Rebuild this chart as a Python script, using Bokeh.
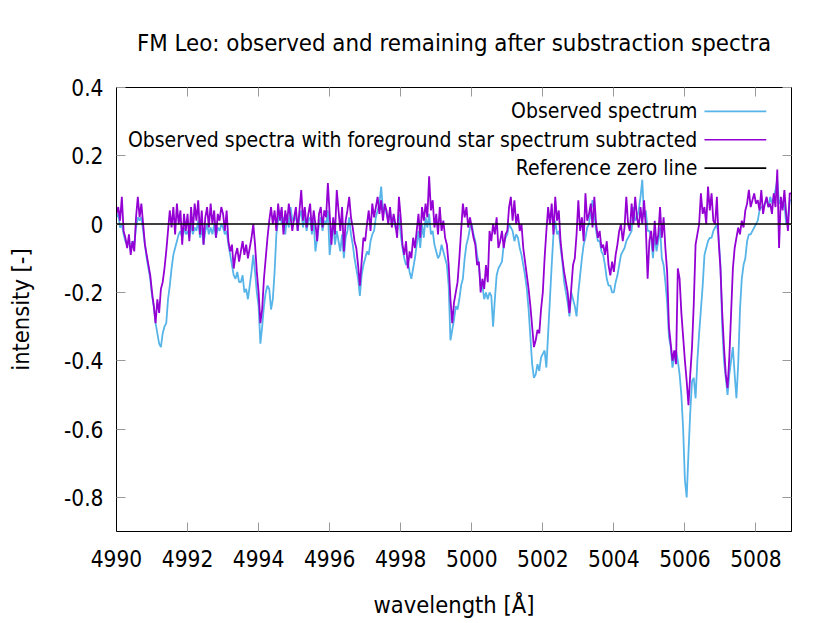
import numpy as np
from bokeh.plotting import figure
from bokeh.models import Range1d, LinearAxis, FixedTicker, Span, Label, BoxAnnotation, CustomLabelingPolicy
from bokeh.embed import file_html
from bokeh.resources import INLINE

FONT = "DejaVu Sans Condensed"

# ---------------- data ----------------
wavelength_start = 4990.0   # Angstrom
wavelength_step = 0.05      # Angstrom

# Observed spectrum (blue), one row per Angstrom, 20 samples each
observed = [
    0.02, 0.03, -0.01, 0.00, -0.03, -0.05, -0.06, -0.05, -0.08, -0.05, -0.06, -0.01, 0.02, 0.01, 0.02, -0.02, -0.06, -0.10, -0.13, -0.16,
    -0.21, -0.24, -0.29, -0.32, -0.35, -0.36, -0.32, -0.30, -0.29, -0.22, -0.18, -0.13, -0.09, -0.07, -0.05, -0.03, -0.02, -0.04, -0.01, -0.03,
    -0.02, -0.04, 0.00, -0.03, -0.01, -0.02, 0.01, -0.04, -0.01, -0.06, -0.02, 0.00, -0.03, -0.01, -0.03, 0.00, -0.04, -0.01, -0.02, 0.00,
    -0.01, -0.03, -0.02, -0.06, -0.09, -0.12, -0.15, -0.16, -0.14, -0.17, -0.17, -0.15, -0.20, -0.19, -0.22, -0.18, -0.14, -0.09, -0.14, -0.20,
    -0.24, -0.35, -0.30, -0.24, -0.20, -0.18, -0.19, -0.25, -0.22, -0.14, -0.03, 0.01, 0.04, 0.00, 0.02, -0.03, 0.03, -0.01, 0.05, 0.01,
    0.01, 0.03, -0.02, 0.02, 0.04, -0.01, 0.03, -0.02, 0.01, 0.02, -0.03, 0.01, -0.08, -0.04, 0.00, 0.02, -0.02, 0.01, 0.00, 0.04,
    -0.09, -0.04, 0.00, -0.06, -0.02, -0.05, -0.08, -0.03, -0.10, -0.04, -0.02, 0.02, -0.03, -0.06, -0.10, -0.13, -0.16, -0.21, -0.15, -0.12,
    -0.10, -0.08, -0.09, -0.05, -0.03, -0.02, 0.02, 0.04, 0.06, 0.11, 0.04, 0.05, 0.03, 0.01, 0.04, 0.00, 0.02, -0.01, -0.02, 0.03,
    -0.03, -0.07, -0.10, -0.12, -0.11, -0.14, -0.16, -0.13, -0.10, -0.06, -0.02, -0.07, 0.00, -0.04, 0.02, -0.01, 0.03, -0.03, -0.02, -0.06,
    -0.08, -0.10, -0.09, -0.06, -0.08, -0.10, -0.12, -0.18, -0.34, -0.31, -0.28, -0.24, -0.25, -0.22, -0.18, -0.16, -0.10, -0.06, -0.04, -0.01,
    0.00, -0.03, -0.05, -0.09, -0.12, -0.18, -0.18, -0.22, -0.20, -0.22, -0.20, -0.21, -0.30, -0.22, -0.15, -0.13, -0.12, -0.11, -0.06, -0.04,
    -0.03, 0.00, -0.01, -0.02, -0.05, -0.03, -0.04, -0.07, -0.09, -0.12, -0.15, -0.19, -0.25, -0.33, -0.41, -0.45, -0.44, -0.41, -0.43, -0.39,
    -0.38, -0.37, -0.42, -0.32, -0.22, -0.12, -0.03, 0.01, -0.03, -0.02, -0.07, -0.11, -0.17, -0.20, -0.23, -0.27, -0.20, -0.22, -0.24, -0.27,
    -0.20, -0.15, -0.10, -0.06, -0.04, -0.01, 0.00, 0.04, 0.07, 0.03, -0.02, -0.05, -0.05, -0.08, -0.09, -0.12, -0.16, -0.18, -0.18, -0.20,
    -0.20, -0.17, -0.15, -0.12, -0.09, -0.08, -0.07, -0.05, -0.04, -0.03, -0.02, 0.05, 0.01, 0.02, 0.04, 0.08, 0.13, 0.02, 0.04, -0.02,
    -0.02, -0.04, -0.10, -0.03, -0.08, -0.05, -0.01, -0.10, -0.12, -0.17, -0.23, -0.33, -0.36, -0.42, -0.39, -0.37, -0.40, -0.44, -0.50, -0.60,
    -0.75, -0.80, -0.67, -0.55, -0.46, -0.45, -0.51, -0.40, -0.32, -0.25, -0.18, -0.09, -0.07, -0.05, -0.04, -0.04, -0.02, -0.01, 0.00, -0.04,
    -0.12, -0.30, -0.40, -0.45, -0.50, -0.44, -0.40, -0.36, -0.44, -0.51, -0.41, -0.25, -0.16, -0.12, -0.10, -0.05, -0.03, -0.03, -0.02, -0.01,
    0.00, 0.01, 0.04, 0.05, 0.05, 0.06, 0.07, 0.05, 0.08, 0.06, 0.08, 0.10, 0.13, 0.06, 0.07, 0.05, 0.06, 0.00, 0.02, 0.07,
    0.07,
]

# Observed spectrum with foreground star spectrum subtracted (purple)
subtracted = [
    0.03, 0.05, 0.01, 0.08, -0.02, -0.04, -0.07, -0.03, -0.09, -0.05, -0.08, 0.02, 0.08, 0.02, 0.06, 0.00, -0.06, -0.09, -0.12, -0.15,
    -0.20, -0.24, -0.29, -0.22, -0.26, -0.19, -0.17, -0.13, -0.08, -0.02, 0.04, -0.01, 0.05, -0.03, 0.06, 0.00, 0.04, -0.06, 0.03, -0.02,
    0.03, -0.05, 0.05, -0.02, 0.06, 0.01, 0.07, -0.03, 0.04, -0.06, 0.02, 0.05, -0.01, 0.06, 0.00, 0.04, -0.04, 0.03, 0.01, 0.05,
    0.03, -0.02, 0.04, -0.05, -0.08, -0.06, -0.13, -0.09, -0.07, -0.11, -0.08, -0.05, -0.09, -0.06, -0.10, -0.07, -0.04, 0.00, -0.06, -0.14,
    -0.20, -0.29, -0.25, -0.16, -0.10, -0.04, 0.01, 0.05, 0.00, 0.04, -0.02, 0.06, 0.01, 0.05, -0.03, 0.04, 0.00, 0.06, 0.02, -0.02,
    0.02, 0.05, -0.02, 0.04, 0.10, 0.01, 0.05, -0.01, 0.03, 0.06, -0.02, 0.04, 0.00, -0.05, 0.03, 0.05, -0.01, 0.04, 0.02, 0.12,
    0.03, -0.06, 0.02, -0.03, 0.10, 0.04, -0.02, 0.05, -0.08, 0.01, 0.04, 0.08, 0.02, -0.01, -0.05, -0.07, -0.12, -0.18, -0.11, -0.04,
    -0.05, 0.00, 0.04, -0.02, 0.06, 0.02, 0.05, 0.08, 0.03, 0.07, 0.01, 0.06, 0.04, 0.00, 0.05, -0.01, 0.03, 0.00, -0.04, 0.08,
    0.02, -0.06, -0.09, -0.05, -0.13, -0.08, -0.10, -0.04, -0.07, -0.02, 0.03, -0.04, 0.05, 0.01, 0.06, 0.02, 0.14, 0.04, 0.07, -0.01,
    0.03, -0.03, 0.05, -0.02, 0.01, -0.04, -0.06, -0.12, -0.22, -0.29, -0.23, -0.20, -0.17, -0.10, -0.02, 0.06, 0.02, 0.05, -0.01, 0.02,
    -0.01, -0.04, -0.06, -0.12, -0.11, -0.20, -0.16, -0.19, -0.12, -0.17, -0.02, -0.05, 0.00, -0.03, 0.02, -0.07, -0.05, -0.02, -0.07, -0.03,
    -0.02, 0.05, 0.08, 0.01, 0.07, 0.00, 0.03, -0.02, 0.00, -0.07, -0.11, -0.15, -0.19, -0.24, -0.30, -0.36, -0.34, -0.31, -0.32, -0.25,
    -0.20, -0.10, -0.02, 0.05, 0.00, 0.06, -0.03, 0.08, 0.01, 0.04, -0.05, -0.10, -0.14, -0.17, -0.20, -0.26, -0.19, -0.12, -0.10, -0.03,
    0.07, -0.02, 0.02, -0.05, 0.09, 0.01, 0.03, 0.06, -0.01, 0.08, 0.00, -0.04, -0.02, -0.07, -0.06, -0.09, -0.05, -0.12, -0.15, -0.11,
    -0.14, -0.09, -0.06, -0.02, 0.00, -0.05, -0.01, 0.08, 0.00, -0.02, 0.06, 0.00, 0.08, 0.02, -0.01, 0.05, 0.00, 0.07, -0.01, -0.16,
    -0.05, -0.02, -0.08, 0.01, -0.06, -0.03, 0.05, -0.04, 0.02, -0.07, -0.14, -0.30, -0.35, -0.40, -0.37, -0.41, -0.13, -0.16, -0.26, -0.33,
    -0.40, -0.46, -0.53, -0.44, -0.36, -0.23, -0.06, -0.03, 0.00, 0.09, 0.03, 0.05, 0.00, 0.11, 0.04, 0.09, 0.01, 0.00, 0.08, -0.05,
    -0.13, -0.26, -0.36, -0.44, -0.48, -0.39, -0.26, -0.13, -0.07, -0.04, -0.01, -0.03, 0.01, -0.01, 0.04, 0.06, 0.10, 0.05, 0.07, 0.09,
    0.06, 0.07, 0.04, 0.10, 0.03, 0.06, 0.08, 0.05, 0.06, 0.03, 0.09, 0.05, 0.16, -0.07, 0.08, 0.04, 0.10, 0.03, -0.02, 0.09,
    0.09,
]

wavelength = np.round(wavelength_start + wavelength_step * np.arange(len(observed)), 2)

x_ticks = [4990, 4992, 4994, 4996, 4998, 5000, 5002, 5004, 5006, 5008]
x_tick_labels = ["4990", "4992", "4994", "4996", "4998", "5000", "5002", "5004", "5006", "5008"]
y_ticks = [0.4, 0.2, 0.0, -0.2, -0.4, -0.6, -0.8]
y_tick_labels = ["0.4", "0.2", "0", "-0.2", "-0.4", "-0.6", "-0.8"]

series_names = ["Observed spectrum",
                "Observed spectra with foreground star spectrum subtracted",
                "Reference zero line"]
series_colors = ["#56b4e9", "#9400d3", "#000000"]

title_text = "FM Leo: observed and remaining after substraction spectra"
x_label = "wavelength [Å]"
y_label = "intensity [-]"

# ---------------- figure ----------------
p = figure(width=822, height=623,
           x_range=Range1d(4990, 5009), y_range=Range1d(-0.9, 0.4),
           output_backend="svg", toolbar_location=None,
           min_border_left=116, min_border_right=31,
           min_border_top=87, min_border_bottom=92,
           background_fill_color="white", border_fill_color="white")

p.title.text = title_text
p.title.align = "center"
p.title.text_font = FONT
p.title.text_font_size = "23.8px"
p.title.text_font_style = "normal"
p.title.text_color = "black"
p.title.standoff = 40

p.xgrid.visible = False
p.ygrid.visible = False
p.outline_line_color = "black"

p.xaxis.ticker = FixedTicker(ticks=x_ticks)
p.yaxis.ticker = FixedTicker(ticks=y_ticks)
p.xaxis.major_label_overrides = {t: l for t, l in zip(x_ticks, x_tick_labels)}
p.yaxis.major_label_overrides = {t: l for t, l in zip(y_ticks, y_tick_labels)}
p.xaxis.axis_label = x_label
p.yaxis.axis_label = y_label

for ax in (p.xaxis[0], p.yaxis[0]):
    ax.major_tick_in = 9
    ax.major_tick_out = 0
    ax.minor_tick_line_color = None
    ax.major_tick_line_color = "#9a9a9a"
    ax.axis_line_color = "black"
    ax.major_label_text_font = FONT
    ax.major_label_text_font_size = "22.5px"
    ax.major_label_text_color = "black"
    ax.axis_label_text_font = FONT
    ax.axis_label_text_font_size = "23.5px"
    ax.axis_label_text_font_style = "normal"
    ax.axis_label_text_color = "black"

p.xaxis.major_label_standoff = 18
p.xaxis.axis_label_standoff = 21
p.yaxis.major_label_standoff = 13
p.yaxis.axis_label_standoff = 26

# mirrored ticks on top and right (gnuplot style), no labels drawn there
top_axis = LinearAxis(ticker=FixedTicker(ticks=x_ticks),
                      major_label_policy=CustomLabelingPolicy(code="return new Set()"),
                      major_tick_in=9, major_tick_out=0, minor_tick_line_color=None,
                      major_tick_line_color="#9a9a9a", axis_line_color="black",
                      major_label_standoff=0)
right_axis = LinearAxis(ticker=FixedTicker(ticks=y_ticks),
                        major_label_policy=CustomLabelingPolicy(code="return new Set()"),
                        major_tick_in=9, major_tick_out=0, minor_tick_line_color=None,
                        major_tick_line_color="#9a9a9a", axis_line_color="black",
                        major_label_standoff=0)
p.add_layout(top_axis, "above")
p.add_layout(right_axis, "right")

# ---------------- series ----------------
p.line(wavelength, observed, line_color=series_colors[0], line_width=1.8)
p.line(wavelength, subtracted, line_color=series_colors[1], line_width=1.8)
p.add_layout(Span(location=0, dimension="width", line_color=series_colors[2], line_width=1.5))

# ---------------- legend (gnuplot style: text right-aligned, sample on the right) ----------------
legend_text_x = 5006.35
legend_sample_x0, legend_sample_x1 = 5006.55, 5008.29
legend_rows_y = [0.330, 0.247, 0.164]
legend_half_thickness = 0.0025
for name, color, ly in zip(series_names, series_colors, legend_rows_y):
    p.add_layout(Label(x=legend_text_x, y=ly, text=name, text_align="right",
                       text_baseline="middle", text_font=FONT, text_font_size="21px",
                       text_color="black"))
    p.add_layout(BoxAnnotation(left=legend_sample_x0, right=legend_sample_x1,
                               bottom=ly - legend_half_thickness, top=ly + legend_half_thickness,
                               fill_color=color, fill_alpha=1.0, line_alpha=0.0))

open("out.html", "w").write(file_html(p, INLINE))
